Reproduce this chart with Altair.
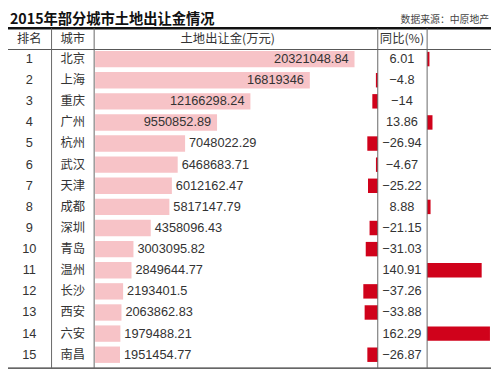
import altair as alt
import pandas as pd

# ---------------- data ----------------
ranks = list(range(1, 16))
cities = ["北京", "上海", "重庆", "广州", "杭州", "武汉", "天津", "成都",
          "深圳", "青岛", "温州", "长沙", "西安", "六安", "南昌"]
land_values = [20321048.84, 16819346, 12166298.24, 9550852.89, 7048022.29,
               6468683.71, 6012162.47, 5817147.79, 4358096.43, 3003095.82,
               2849644.77, 2193401.5, 2063862.83, 1979488.21, 1951454.77]
yoy_values = [6.01, -4.8, -14, 13.86, -26.94, -4.67, -25.22, 8.88, -21.15,
              -31.03, 140.91, -37.26, -33.88, 162.29, -26.87]

title_text = "2015年部分城市土地出让金情况"
source_text = "数据来源：中原地产"
headers = ["排名", "城市", "土地出让金(万元)", "同比(%)"]


def fmt_num(v):
    s = f"{v:.2f}".rstrip("0").rstrip(".")
    return s.replace("-", "\u2212")


df = pd.DataFrame({
    "rank": ranks,
    "city": cities,
    "land": land_values,
    "land_label": [fmt_num(v) for v in land_values],
    "yoy": yoy_values,
    "yoy_label": [fmt_num(v) for v in yoy_values],
})

# ---------------- layout helpers ----------------
W, H = 491, 367
SX, SY = W / 499, H / 375


def X(r):
    return round(r * SX, 2)


def Y(r):
    return round(r * SY, 2)


CJK = "Noto Sans CJK SC"
NUM = "Liberation Sans"
TEXT = "#333333"
PINK = "#F7C3C7"
RED = "#D0021B"

y_enc = alt.Y("rank:O", scale=alt.Scale(domain=ranks, range=[Y(39), Y(368)],
                                          paddingInner=0, paddingOuter=0),
              axis=None)

land_scale = alt.Scale(domain=[0, land_values[0]], range=[X(90), X(358)],
                       nice=False, zero=True)
neg_scale = alt.Scale(domain=[-40, 0], range=[X(382 - 16), X(382)], nice=False)
pos_scale = alt.Scale(domain=[0, 165], range=[X(433), X(433 + 66)], nice=False)

base = alt.Chart(df)

land_bars = base.mark_bar(color=PINK, size=Y(17)).encode(
    x=alt.X("land:Q", scale=land_scale, axis=None), y=y_enc)

land_in = base.transform_filter("datum.land > 9000000").mark_text(
    align="right", baseline="middle", dx=-6, font=NUM, fontSize=13, color=TEXT
).encode(x=alt.X("land:Q", scale=land_scale, axis=None), y=y_enc,
         text="land_label:N")

land_out = base.transform_filter("datum.land <= 9000000").mark_text(
    align="left", baseline="middle", dx=4, font=NUM, fontSize=13, color=TEXT
).encode(x=alt.X("land:Q", scale=land_scale, axis=None), y=y_enc,
         text="land_label:N")

neg_bars = base.transform_filter("datum.yoy < 0").mark_bar(
    color=RED, size=Y(15)).encode(
    x=alt.X("yoy:Q", scale=neg_scale, axis=None), y=y_enc)

pos_bars = base.transform_filter("datum.yoy > 0").mark_bar(
    color=RED, size=Y(15)).encode(
    x=alt.X("yoy:Q", scale=pos_scale, axis=None), y=y_enc)

rank_text = base.mark_text(align="center", baseline="middle", font=NUM,
                           fontSize=13, color=TEXT).encode(
    x=alt.value(X(22)), y=y_enc, text="rank:N")

city_text = base.mark_text(align="center", baseline="middle", font=CJK,
                           fontSize=12.5, color=TEXT).encode(
    x=alt.value(X(67)), y=y_enc, text="city:N")

yoy_text = base.mark_text(align="center", baseline="middle", font=NUM,
                          fontSize=13, color=TEXT).encode(
    x=alt.value(X(407)), y=y_enc, text="yoy_label:N")

dummy = pd.DataFrame({"k": [0]})


def label(txt, x, y, size, align="center", color=TEXT, weight="normal", font=CJK):
    return alt.Chart(dummy).mark_text(
        align=align, baseline="middle", font=font, fontSize=size,
        color=color, fontWeight=weight
    ).encode(x=alt.value(X(x)), y=alt.value(Y(y)), text=alt.value(txt))


def hline(y, x1, x2, color, width):
    return alt.Chart(dummy).mark_rule(color=color, strokeWidth=width).encode(
        x=alt.value(X(x1)), x2=alt.value(X(x2)), y=alt.value(Y(y)))


def vline(x, y1, y2, color, width=1):
    return alt.Chart(dummy).mark_rule(color=color, strokeWidth=width).encode(
        x=alt.value(X(x)), y=alt.value(Y(y1)), y2=alt.value(Y(y2)))


deco = [
    label(title_text, 2, 9.5, 14.5, align="left", color="#111", weight="bold"),
    label(source_text, 497, 9.5, 10, align="right", color="#444"),
    label(headers[0], 22, 29.5, 12.5),
    label(headers[1], 67, 29.5, 12.5),
    label(headers[2], 227, 29.5, 12.5),
    label(headers[3], 407, 29.5, 12.5),
    hline(18, 0, 499, "#111111", 2.5),
    hline(40, 0, 499, "#555555", 1),
    hline(371, 0, 499, "#333333", 1.2),
    vline(45, 18, 371, "#666666"),
    vline(89, 18, 371, "#666666"),
    vline(382, 18, 371, "#666666"),
    vline(433, 18, 371, "#666666"),
]

chart = alt.layer(
    land_bars, land_in, land_out, neg_bars, pos_bars,
    rank_text, city_text, yoy_text, *deco
).resolve_scale(x="independent").properties(
    width=W, height=H,
    autosize=alt.AutoSizeParams(type="none"),
    padding=0,
    background="white",
).configure_view(stroke=None)

chart.save("out.html", embed_options={"renderer": "svg", "actions": False})
